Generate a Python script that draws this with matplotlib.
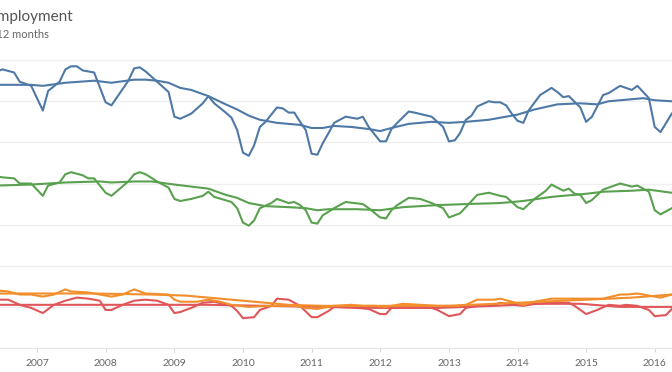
import matplotlib
matplotlib.use("Agg")
import matplotlib.pyplot as plt
import matplotlib.dates as mdates
import pandas as pd

plt.rcParams['font.family'] = ['Lato', 'DejaVu Sans']

# blue series (monthly) and its 12-month trend
blue_months = ["2006-06", "2006-07", "2006-09", "2006-10", "2006-11", "2006-12", "2007-02", "2007-03", "2007-05", "2007-06",
               "2007-07", "2007-08", "2007-09", "2007-11", "2008-01", "2008-02", "2008-05", "2008-06", "2008-07", "2008-08",
               "2008-10", "2008-12", "2009-01", "2009-02", "2009-04", "2009-06", "2009-07", "2009-08", "2009-10", "2009-11",
               "2009-12", "2010-01", "2010-02", "2010-03", "2010-04", "2010-05", "2010-07", "2010-08", "2010-09", "2010-10",
               "2010-11", "2010-12", "2011-01", "2011-02", "2011-03", "2011-04", "2011-05", "2011-07", "2011-09", "2011-10",
               "2011-11", "2012-01", "2012-02", "2012-03", "2012-04", "2012-06", "2012-07", "2012-10", "2012-12", "2013-01",
               "2013-02", "2013-03", "2013-04", "2013-05", "2013-06", "2013-08", "2013-09", "2013-10", "2013-11", "2013-12",
               "2014-01", "2014-02", "2014-03", "2014-05", "2014-07", "2014-08", "2014-09", "2014-10", "2014-12", "2015-01",
               "2015-02", "2015-04", "2015-05", "2015-07", "2015-09", "2015-10", "2015-12", "2016-01", "2016-02", "2016-04"]
blue_values = [269, 271, 268, 259, 257, 255, 231, 250, 259, 271,
               274, 274, 270, 268, 239, 236, 260, 272, 273, 269,
               259, 249, 225, 223, 228, 238, 245, 238, 229, 224,
               212, 190, 187, 197, 215, 220, 234, 233, 229, 229,
               220, 212, 189, 188, 199, 209, 219, 225, 223, 225,
               215, 201, 201, 213, 219, 230, 229, 225, 215, 201,
               202, 209, 222, 226, 235, 240, 239, 239, 236, 228,
               221, 219, 231, 246, 253, 249, 244, 245, 234, 220,
               225, 246, 248, 255, 251, 255, 243, 215, 210, 228]
blue_trend_months = ["2006-06", "2006-12", "2007-02", "2007-06", "2007-11", "2008-02", "2008-06", "2008-08", "2008-10",
                     "2008-12", "2009-02", "2009-04", "2009-07", "2009-10", "2009-12", "2010-02", "2010-04", "2010-07",
                     "2010-11", "2011-01", "2011-03", "2011-05", "2011-08", "2011-11", "2012-01", "2012-03", "2012-06",
                     "2012-10", "2013-01", "2013-04", "2013-08", "2014-01", "2014-04", "2014-08", "2014-12", "2015-03",
                     "2015-05", "2015-09", "2015-11", "2016-01", "2016-04"]
blue_trend = [256, 256, 255, 258, 260, 258, 261, 261, 260,
              258, 253, 251, 245, 237, 232, 226, 222, 219,
              217, 214, 214, 216, 215, 213, 211, 214, 218,
              220, 219, 220, 222, 227, 232, 237, 238, 237,
              240, 242, 243, 241, 240]

# green series
green_months = ["2006-06", "2006-07", "2006-09", "2006-10", "2006-12", "2007-02", "2007-03", "2007-05", "2007-06", "2007-07",
                "2007-09", "2007-10", "2007-11", "2008-01", "2008-02", "2008-05", "2008-06", "2008-07", "2008-08", "2008-10",
                "2008-12", "2009-01", "2009-02", "2009-04", "2009-06", "2009-07", "2009-08", "2009-11", "2009-12", "2010-01",
                "2010-02", "2010-03", "2010-04", "2010-06", "2010-07", "2010-09", "2010-10", "2010-11", "2010-12", "2011-01",
                "2011-02", "2011-03", "2011-05", "2011-07", "2011-10", "2011-11", "2012-01", "2012-02", "2012-03", "2012-04",
                "2012-06", "2012-08", "2012-10", "2012-12", "2013-01", "2013-03", "2013-04", "2013-06", "2013-08", "2013-10",
                "2013-11", "2014-01", "2014-02", "2014-04", "2014-06", "2014-07", "2014-09", "2014-10", "2014-11", "2014-12",
                "2015-01", "2015-02", "2015-04", "2015-05", "2015-07", "2015-09", "2015-10", "2015-12", "2016-01", "2016-02",
                "2016-04"]
green_values = [167, 166, 165, 160, 160, 148, 158, 161, 169, 171,
                168, 165, 165, 151, 148, 162, 169, 171, 169, 162,
                156, 145, 143, 145, 148, 152, 147, 142, 136, 122,
                119, 124, 136, 141, 145, 141, 142, 139, 134, 122,
                121, 129, 136, 142, 140, 136, 127, 126, 134, 139,
                146, 145, 141, 136, 127, 131, 137, 149, 151, 148,
                147, 137, 135, 145, 153, 159, 153, 155, 150, 149,
                141, 144, 154, 156, 160, 157, 158, 152, 134, 130,
                136]
green_trend_months = ["2006-06", "2006-12", "2007-06", "2007-12", "2008-02", "2008-06", "2008-09", "2009-01", "2009-04",
                      "2009-07", "2009-10", "2009-12", "2010-02", "2010-05", "2010-09", "2010-12", "2011-02", "2011-04",
                      "2011-09", "2012-01", "2012-05", "2012-11", "2013-04", "2013-10", "2014-02", "2014-07", "2015-01",
                      "2015-04", "2015-09", "2015-12", "2016-04"]
green_trend = [158, 159, 161, 162, 161, 162, 162, 159, 157,
               155, 149, 146, 141, 138, 137, 136, 134, 135,
               135, 134, 137, 139, 140, 141, 143, 147, 150,
               152, 153, 154, 151]

# orange series
orange_months = ["2006-06", "2006-08", "2006-10", "2006-12", "2007-02", "2007-04", "2007-06", "2007-07", "2007-10", "2007-12",
                 "2008-02", "2008-04", "2008-06", "2008-08", "2008-12", "2009-01", "2009-02", "2009-05", "2009-07", "2009-09",
                 "2009-11", "2010-02", "2010-05", "2010-07", "2010-10", "2010-12", "2011-02", "2011-05", "2011-08", "2011-10",
                 "2011-12", "2012-02", "2012-05", "2012-08", "2012-11", "2013-02", "2013-04", "2013-06", "2013-09", "2013-10",
                 "2013-12", "2014-02", "2014-04", "2014-07", "2014-10", "2015-02", "2015-04", "2015-07", "2015-08", "2015-10",
                 "2015-12", "2016-02", "2016-04"]
orange_values = [56, 55, 52, 52, 50, 52, 57, 55, 54, 52,
                 50, 52, 57, 53, 52, 47, 45, 45, 47, 45,
                 42, 40, 41, 41, 41, 39, 38, 41, 42, 41,
                 41, 40, 43, 42, 41, 41, 42, 47, 47, 48,
                 45, 42, 45, 48, 48, 48, 48, 52, 52, 53,
                 51, 49, 52]
orange_trend_months = ["2006-06", "2007-11", "2008-09", "2009-03", "2009-09", "2010-03", "2010-09", "2011-03",
                       "2012-01", "2013-01", "2014-01", "2015-01", "2015-09", "2016-04"]
orange_trend = [53, 53, 52, 51, 48, 45, 42, 41, 41, 41, 44, 47, 49, 52]

# red series
red_months = ["2006-06", "2006-08", "2006-10", "2006-12", "2007-02", "2007-04", "2007-06", "2007-08", "2007-10", "2007-12",
              "2008-01", "2008-02", "2008-04", "2008-06", "2008-08", "2008-10", "2008-12", "2009-01", "2009-02", "2009-04",
              "2009-06", "2009-08", "2009-11", "2009-12", "2010-01", "2010-03", "2010-04", "2010-06", "2010-07", "2010-09",
              "2010-11", "2011-01", "2011-02", "2011-04", "2011-05", "2011-09", "2011-11", "2012-01", "2012-02", "2012-03",
              "2012-05", "2012-09", "2012-11", "2013-01", "2013-03", "2013-04", "2013-06", "2013-09", "2013-10", "2013-12",
              "2014-02", "2014-04", "2014-07", "2014-10", "2014-11", "2015-01", "2015-03", "2015-05", "2015-07", "2015-08",
              "2015-10", "2015-12", "2016-01", "2016-03", "2016-04"]
red_values = [47, 47, 42, 39, 34, 42, 46, 49, 48, 46,
              37, 37, 42, 46, 47, 46, 42, 34, 35, 39,
              44, 45, 41, 36, 29, 30, 37, 41, 48, 47,
              41, 30, 30, 36, 40, 39, 38, 33, 33, 39,
              40, 41, 37, 31, 33, 39, 41, 42, 44, 42,
              41, 43, 44, 44, 41, 33, 37, 42, 41, 42,
              41, 37, 31, 32, 38]
red_trend_months = ["2006-06", "2007-11", "2008-09", "2009-07", "2010-05", "2011-03", "2012-01", "2012-11",
                    "2013-09", "2014-05", "2014-12", "2015-07", "2016-04"]
red_trend = [42, 42, 42, 42, 41, 40, 39, 39, 41, 43, 43, 40, 40]

series = [
    (blue_months, blue_values, blue_trend_months, blue_trend, "#4e79a7"),
    (green_months, green_values, green_trend_months, green_trend, "#59a14f"),
    (red_months, red_values, red_trend_months, red_trend, "#e15759"),
    (orange_months, orange_values, orange_trend_months, orange_trend, "#f28e2b"),
]

fig = plt.figure(figsize=(6.72, 3.72), dpi=100)
ax = fig.add_axes([0, 24 / 372, 1, 293 / 372])

for months, vals, tmonths, tvals, color in series:
    ax.plot(pd.to_datetime(months), vals, color=color, lw=1.5, solid_joinstyle="round")
    ax.plot(pd.to_datetime(tmonths), tvals, color=color, lw=1.5, solid_joinstyle="round")

ax.set_xlim(pd.Timestamp("2006-06-18"), pd.Timestamp("2016-04-02"))
ax.set_ylim(0, 285)
ax.set_yticks(range(0, 281, 40))
ax.yaxis.grid(True, color="#efefef", lw=0.9)
ax.set_axisbelow(True)
ax.tick_params(axis="y", left=False, labelleft=False)

ax.xaxis.set_major_locator(mdates.YearLocator())
ax.xaxis.set_major_formatter(mdates.DateFormatter("%Y"))
ax.tick_params(axis="x", colors="#d8d8d8", length=3, width=0.8, labelcolor="#666666", labelsize=7.5, pad=5)

for s in ["top", "right", "left"]:
    ax.spines[s].set_visible(False)
ax.spines["bottom"].set_color("#e6e6e6")

fig.text(73 / 672, 1 - 17 / 372, "Employment", ha="right", va="center", fontsize=11, color="#555555")
fig.text(49 / 672, 1 - 35 / 372, "Rolling 12 months", ha="right", va="center", fontsize=8, color="#666666")

fig.savefig("out.png", dpi=100)
